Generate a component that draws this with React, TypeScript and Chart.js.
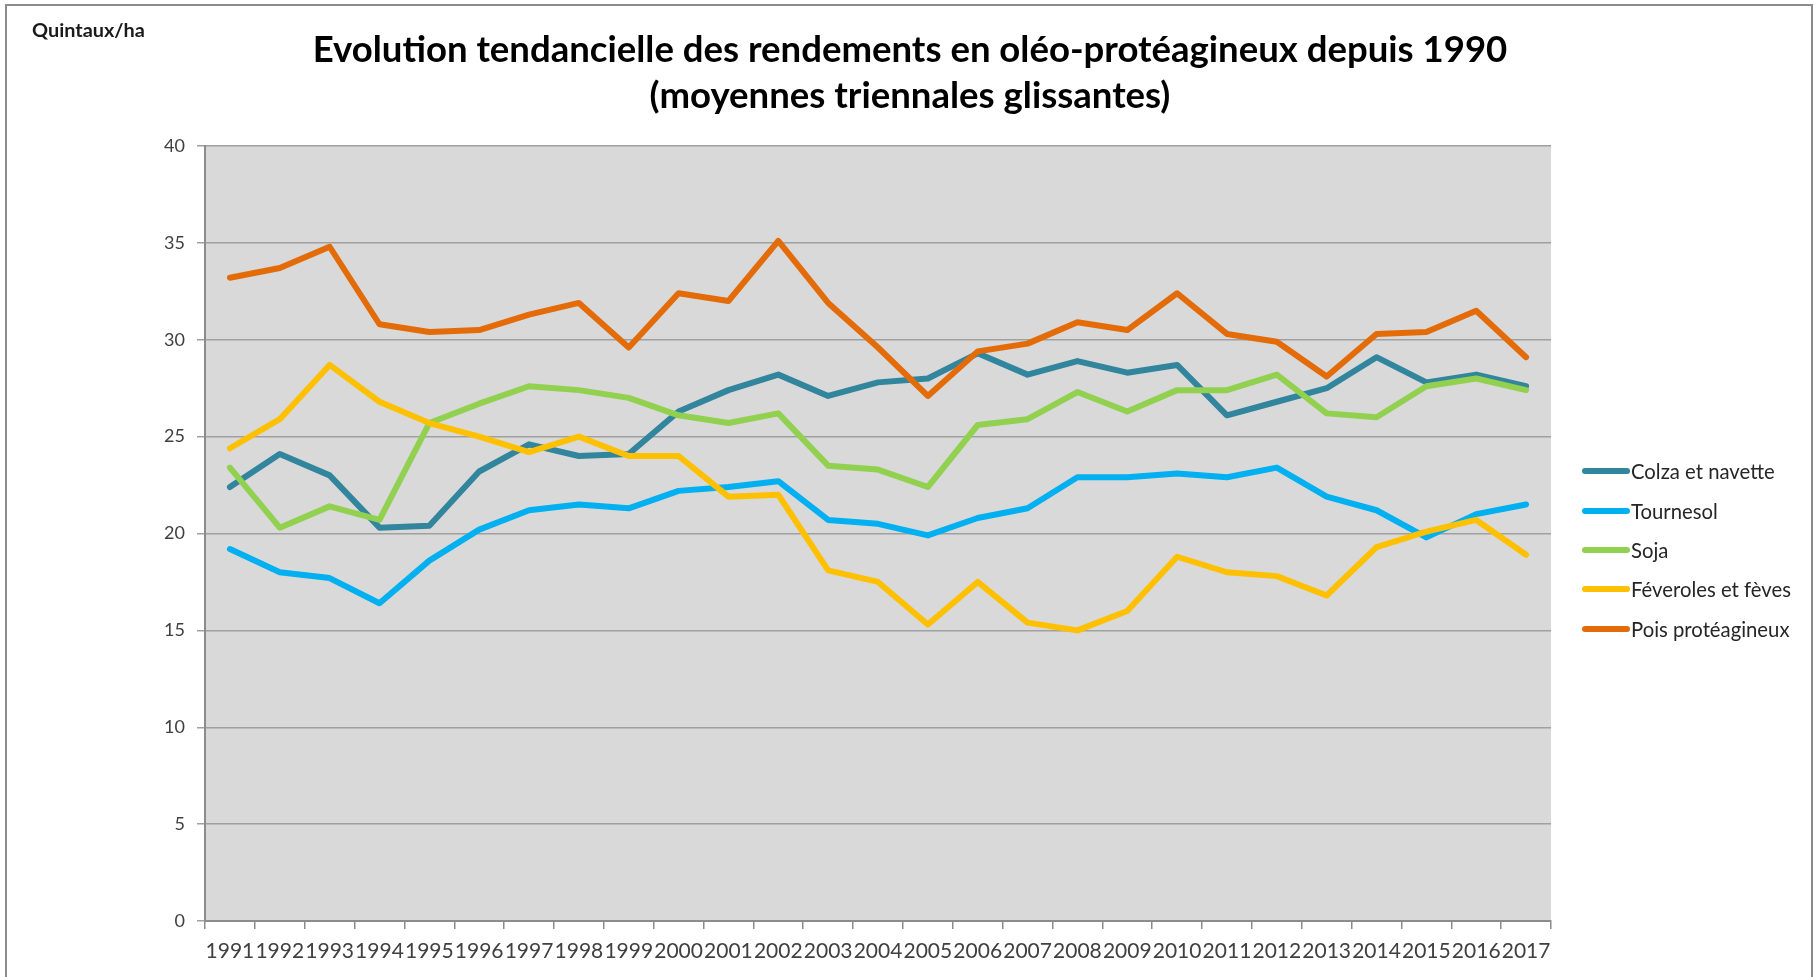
import React, { useEffect, useRef } from "react";
import { Chart, registerables } from "chart.js";

Chart.register(...registerables);

const years = [
  "1991", "1992", "1993", "1994", "1995", "1996", "1997", "1998", "1999", "2000",
  "2001", "2002", "2003", "2004", "2005", "2006", "2007", "2008", "2009", "2010",
  "2011", "2012", "2013", "2014", "2015", "2016", "2017",
];

const colza = [22.4, 24.1, 23.0, 20.3, 20.4, 23.2, 24.6, 24.0, 24.1, 26.3, 27.4, 28.2, 27.1, 27.8, 28.0, 29.3, 28.2, 28.9, 28.3, 28.7, 26.1, 26.8, 27.5, 29.1, 27.8, 28.2, 27.6];
const tournesol = [19.2, 18.0, 17.7, 16.4, 18.6, 20.2, 21.2, 21.5, 21.3, 22.2, 22.4, 22.7, 20.7, 20.5, 19.9, 20.8, 21.3, 22.9, 22.9, 23.1, 22.9, 23.4, 21.9, 21.2, 19.8, 21.0, 21.5];
const soja = [23.4, 20.3, 21.4, 20.7, 25.7, 26.7, 27.6, 27.4, 27.0, 26.1, 25.7, 26.2, 23.5, 23.3, 22.4, 25.6, 25.9, 27.3, 26.3, 27.4, 27.4, 28.2, 26.2, 26.0, 27.6, 28.0, 27.4];
const feveroles = [24.4, 25.9, 28.7, 26.8, 25.7, 25.0, 24.2, 25.0, 24.0, 24.0, 21.9, 22.0, 18.1, 17.5, 15.3, 17.5, 15.4, 15.0, 16.0, 18.8, 18.0, 17.8, 16.8, 19.3, 20.1, 20.7, 18.9];
const pois = [33.2, 33.7, 34.8, 30.8, 30.4, 30.5, 31.3, 31.9, 29.6, 32.4, 32.0, 35.1, 31.9, 29.6, 27.1, 29.4, 29.8, 30.9, 30.5, 32.4, 30.3, 29.9, 28.1, 30.3, 30.4, 31.5, 29.1];

const seriesNames = ["Colza et navette", "Tournesol", "Soja", "Féveroles et fèves", "Pois protéagineux"];
const seriesColors = ["#31859C", "#00B0F0", "#92D050", "#FFC000", "#E36C09"];
const seriesValues = [colza, tournesol, soja, feveroles, pois];

const titleLines = [
  "Evolution tendancielle des rendements en oléo-protéagineux depuis 1990",
  "(moyennes triennales glissantes)",
];
const unitLabel = "Quintaux/ha";

const W = 1816;
const H = 977;
const FONT = "Lato, 'Open Sans', sans-serif";

function fitSize(ctx: CanvasRenderingContext2D, text: string, target: number, weight: string, base: number) {
  ctx.font = `${weight} ${base}px ${FONT}`;
  const w = ctx.measureText(text).width;
  return (base * target) / w;
}

const decorPlugin = {
  id: "decor",
  beforeDraw(chart: any) {
    const { ctx, chartArea } = chart;
    ctx.save();
    ctx.fillStyle = "#ffffff";
    ctx.fillRect(0, 0, chart.width, chart.height);
    ctx.fillStyle = "#D9D9D9";
    ctx.fillRect(chartArea.left, chartArea.top, chartArea.right - chartArea.left, chartArea.bottom - chartArea.top);
    ctx.restore();
  },
  afterDraw(chart: any) {
    const { ctx } = chart;
    ctx.save();
    // outer frame
    ctx.strokeStyle = "#8C8C8C";
    ctx.lineWidth = 2;
    ctx.strokeRect(6, 5, 1806, 1100);

    // title
    ctx.fillStyle = "#000000";
    ctx.textAlign = "center";
    ctx.textBaseline = "middle";
    const ts = fitSize(ctx, titleLines[0], 1195, "bold", 30);
    ctx.font = `bold ${ts}px ${FONT}`;
    ctx.fillText(titleLines[0], 910, 50);
    ctx.fillText(titleLines[1], 910, 96);

    // unit label
    ctx.textAlign = "left";
    const us = fitSize(ctx, unitLabel, 113, "bold", 15);
    ctx.font = `bold ${us}px ${FONT}`;
    ctx.fillStyle = "#1a1a1a";
    ctx.fillText(unitLabel, 32, 31);

    // legend
    const ys = [471, 511, 550, 589, 629];
    const ls = fitSize(ctx, seriesNames[3], 1791 - 1631, "normal", 18);
    ctx.font = `${ls}px ${FONT}`;
    seriesNames.forEach((name, i) => {
      ctx.strokeStyle = seriesColors[i];
      ctx.lineWidth = 6;
      ctx.lineCap = "round";
      ctx.beginPath();
      ctx.moveTo(1585, ys[i]);
      ctx.lineTo(1627, ys[i]);
      ctx.stroke();
      ctx.fillStyle = "#262626";
      ctx.fillText(name, 1631, ys[i] + 1);
    });
    ctx.restore();
  },
};

export default function App() {
  const ref = useRef<HTMLCanvasElement | null>(null);

  useEffect(() => {
    if (!ref.current) return;
    const chart = new Chart(ref.current, {
      type: "line",
      data: {
        labels: years,
        datasets: seriesNames.map((name, i) => ({
          label: name,
          data: seriesValues[i],
          borderColor: seriesColors[i],
          backgroundColor: seriesColors[i],
          borderWidth: 6,
          pointRadius: 0,
          tension: 0,
          borderCapStyle: "round" as const,
          borderJoinStyle: "round" as const,
          fill: false,
          order: seriesNames.length - i,
        })),
      },
      options: {
        animation: false,
        responsive: false,
        devicePixelRatio: 1,
        layout: { padding: { left: 145, right: 265, top: 146, bottom: 6 } },
        plugins: {
          legend: { display: false },
          title: { display: false },
          tooltip: { enabled: false },
        },
        scales: {
          x: {
            type: "category",
            offset: true,
            grid: {
              offset: true,
              drawOnChartArea: false,
              drawTicks: true,
              tickLength: 8,
              color: "#8C8C8C",
              lineWidth: 1.5,
            },
            border: { display: true, color: "#8C8C8C", width: 2 },
            ticks: {
              autoSkip: false,
              maxRotation: 0,
              minRotation: 0,
              padding: 10,
              color: "#404040",
              font: { family: FONT, size: 21 },
            },
            afterFit: (scale: any) => {
              scale.height = 50;
            },
          },
          y: {
            min: 0,
            max: 40,
            ticks: {
              stepSize: 5,
              padding: 12,
              color: "#404040",
              font: { family: FONT, size: 18 },
            },
            grid: {
              color: "#A0A0A0",
              lineWidth: 1.5,
              tickLength: 8,
            },
            border: { display: true, color: "#8C8C8C", width: 2 },
            afterFit: (scale: any) => {
              scale.width = 60;
            },
          },
        },
      },
      plugins: [decorPlugin],
    });
    return () => chart.destroy();
  }, []);

  return (
    <div style={{ position: "fixed", left: 0, top: 0, width: W, height: H, overflow: "hidden", background: "#fff" }}>
      <canvas ref={ref} width={W} height={H} style={{ width: W, height: H, display: "block" }} />
    </div>
  );
}
